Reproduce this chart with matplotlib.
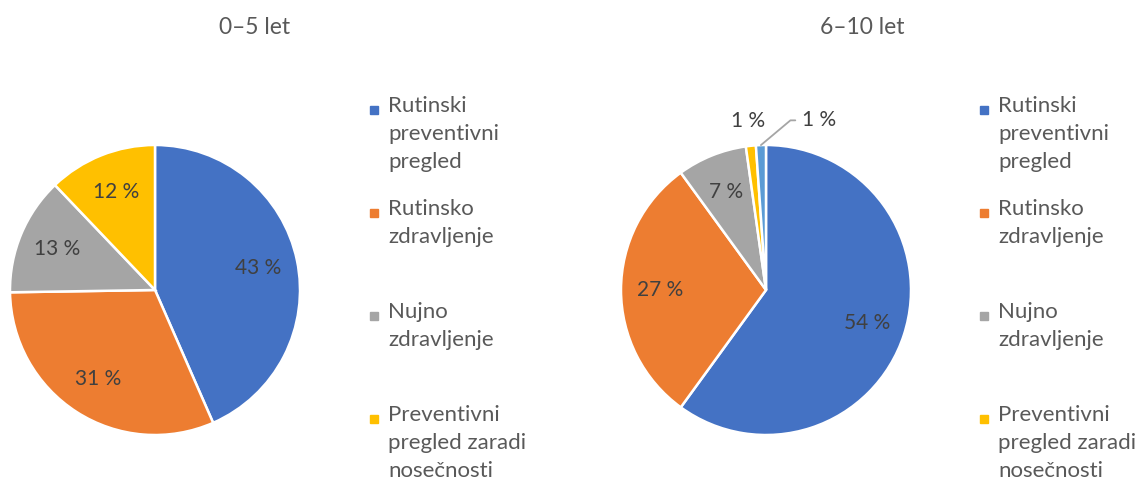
import numpy as np
import matplotlib
matplotlib.use('Agg')
import matplotlib.pyplot as plt
from matplotlib.patches import Rectangle

plt.rcParams['font.family'] = ['Lato', 'DejaVu Sans']

# shares of visit reasons per age group
categories = ['Rutinski\npreventivni\npregled', 'Rutinsko\nzdravljenje',
              'Nujno\nzdravljenje', 'Preventivni\npregled zaradi\nnosečnosti']
titles = ['0–5 let', '6–10 let']
values_0_5 = [43, 31, 13, 12]
values_6_10 = [54, 27, 7, 1, 1]
colors = ['#4472C4', '#ED7D31', '#A5A5A5', '#FFC000', '#5B9BD5']
txt = '#595959'
lbl = '#404040'

W, H = 1142, 482
fig = plt.figure(figsize=(W / 100, H / 100), dpi=100)

def fx(px):
    return px / W

def fy(py):
    return 1 - py / H

def draw_pie(left_px, values, title, title_x, legend_x):
    ax = fig.add_axes([fx(left_px), fy(435), fx(290), 290 / H])
    def pct(p):
        v = p * sum(values) / 100
        return '' if round(v) < 5 else f'{round(v)} %'
    wedges, _, autotexts = ax.pie(values, colors=colors[:len(values)], startangle=90,
                                  counterclock=False, autopct=pct, pctdistance=0.73,
                                  wedgeprops=dict(edgecolor='white', linewidth=1.8),
                                  textprops=dict(color=lbl, fontsize=15))
    ax.set_xlim(-1, 1)
    ax.set_ylim(-1, 1)
    ax.set_aspect('equal')
    fig.text(fx(title_x), fy(28), title, ha='center', va='center', fontsize=16.5, color=txt)

    # legend: square marker aligned with first line of each entry
    for i, lab in enumerate(categories):
        y0 = 99 + i * 103
        fig.patches.append(Rectangle((fx(legend_x), fy(y0 + 15)), fx(8), 8 / H,
                                     transform=fig.transFigure, color=colors[i]))
        fig.text(fx(legend_x + 18), fy(y0 - 3), lab, ha='left', va='top', fontsize=16,
                 color=txt, linespacing=1.5)
    return ax, wedges

ax1, _ = draw_pie(10, values_0_5, titles[0], 255, 370)
ax2, w2 = draw_pie(621, values_6_10, titles[1], 862, 980)

# small slices labelled outside
th = np.deg2rad((w2[3].theta1 + w2[3].theta2) / 2)
ax2.text(1.17 * np.cos(th), 1.17 * np.sin(th), f'{values_6_10[3]} %', ha='center',
         va='center', fontsize=15, color=lbl)
th = np.deg2rad((w2[4].theta1 + w2[4].theta2) / 2)
ax2.annotate(f'{values_6_10[4]} %', xy=(1.0 * np.cos(th), 1.0 * np.sin(th)),
             xytext=(0.25, 1.17), ha='left', va='center', fontsize=15, color=lbl,
             arrowprops=dict(arrowstyle='-', color='#A5A5A5', lw=1.3,
                             connectionstyle='angle,angleA=0,angleB=40,rad=0',
                             shrinkA=3, shrinkB=0))

fig.savefig('out.png', dpi=100, facecolor='white')
